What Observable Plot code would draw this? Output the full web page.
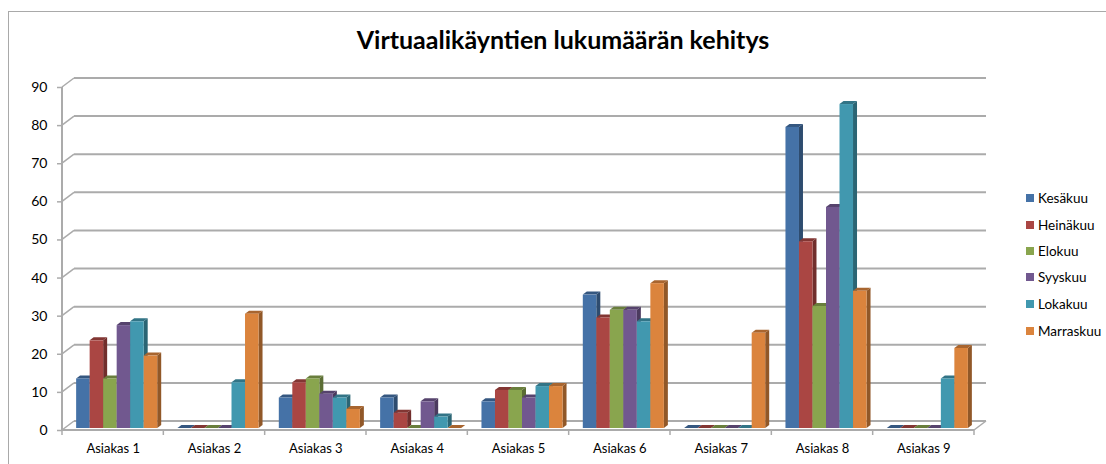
<!DOCTYPE html>
<html><head><meta charset="utf-8">
<script src="https://cdn.jsdelivr.net/npm/d3@7"></script>
<script src="https://cdn.jsdelivr.net/npm/@observablehq/plot@0.6"></script>
<style>
html,body{margin:0;padding:0;background:#fff;overflow:hidden}
#wrap{position:relative;width:1106px;height:464px;overflow:hidden;font-family:Lato,sans-serif;color:#000}
#frame{position:absolute;left:8px;top:11px;width:1200px;height:600px;border:1.5px solid #a9a9a9;box-sizing:border-box}
#title{position:absolute;left:0;top:23px;width:1126px;text-align:center;font-size:25px;font-weight:700;color:#000;line-height:32px}
#plot{position:absolute;left:0;top:0}
.lg{position:absolute;left:1026px;font-size:13.5px;line-height:16px;white-space:nowrap}
.lg i{position:absolute;left:0;top:4px;width:8px;height:8px}
.lg span{position:absolute;left:12px;top:0}
</style></head><body>
<div id="wrap"><div id="frame"></div><div id="plot"></div><div id="title">Virtuaalikäyntien lukumäärän kehitys</div></div>
<script>
const customers = ["Asiakas 1","Asiakas 2","Asiakas 3","Asiakas 4","Asiakas 5","Asiakas 6","Asiakas 7","Asiakas 8","Asiakas 9"];
const months = ["Kesäkuu","Heinäkuu","Elokuu","Syyskuu","Lokakuu","Marraskuu"];
const colors = ["#4572A7","#AA4643","#89A54E","#71588F","#4198AF","#DB843D"];
const kesakuu   = [13,0,8,8,7,35,0,79,0];
const heinakuu  = [23,0,12,4,10,29,0,49,0];
const elokuu    = [13,0,13,0,10,31,0,32,0];
const syyskuu   = [27,0,9,7,8,31,0,58,0];
const lokakuu   = [28,12,8,3,11,28,0,85,13];
const marraskuu = [19,30,5,0,11,38,25,36,21];
const series = [kesakuu,heinakuu,elokuu,syyskuu,lokakuu,marraskuu];
const yTicks = [0,10,20,30,40,50,60,70,80,90];

const rows = customers.flatMap((c,i)=>months.map((m,j)=>({customer:c,month:m,value:series[j][i]})));
const wallDx = 12, wallDy = -9, barDepthX = 4, barDepthY = -3, grid = "#ababab";
const W = 1106, H = 464, mL = 62, mR = 132, mT = 87, mB = 34;

function bar3d(index, scales, values, dims, ctx, next){
  const g = next(index, scales, values, dims, ctx);
  g.querySelectorAll("rect").forEach(r=>{
    const x=+r.getAttribute("x"), y=+r.getAttribute("y"), w=+r.getAttribute("width"), h=+r.getAttribute("height");
    const c=d3.color(r.getAttribute("fill"));
    const add=(pts,f)=>{const p=document.createElementNS("http://www.w3.org/2000/svg","polygon");
      p.setAttribute("points",pts.map(q=>q.join(",")).join(" "));p.setAttribute("fill",f);r.parentNode.insertBefore(p,r);};
    add([[x+w,y],[x+w+barDepthX,y+barDepthY],[x+w+barDepthX,y+h+barDepthY],[x+w,y+h]],c.darker(1.15).formatHex());
    add([[x,y],[x+barDepthX,y+barDepthY],[x+w+barDepthX,y+barDepthY],[x+w,y]],c.darker(.75).formatHex());
  });
  return g;
}
const chart = Plot.plot({
  width:W,height:H,marginLeft:mL,marginRight:mR,marginTop:mT,marginBottom:mB,
  style:{background:"transparent",fontFamily:"Lato,sans-serif",fontSize:"13px",color:"#000"},
  fx:{domain:customers,padding:0,round:false,label:null},
  x:{domain:months,paddingInner:0,paddingOuter:.75,round:false,axis:null,label:null},
  y:{domain:[0,90],label:null,axis:null},
  color:{domain:months,range:colors},
  marks:[
    Plot.axisY(yTicks,{tickSize:5,tickPadding:10,stroke:grid,strokeWidth:1.5,fill:"#000",fontSize:14,label:null,tickFormat:d=>d}),
    Plot.axisFx({anchor:"bottom",tickSize:0,tickPadding:13,label:null,fontSize:13,fill:"#000"}),
    Plot.barY(rows,{fx:"customer",x:"month",y:"value",fill:"month",dx:4,dy:-2,render:bar3d})
  ]
});
// Walls and floor sit behind the marks; their heights come from the chart's own y scale.
const yScale = chart.scale("y").apply;
const L = mL, R = W-mR, B = H-mB, T = mT;
const wall = d3.create("svg:g").attr("stroke",grid).attr("fill","none");
const seg = (x1,y1,x2,y2,sw)=>wall.append("line").attr("x1",x1).attr("y1",y1).attr("x2",x2).attr("y2",y2).attr("stroke-width",sw);
for(const t of yTicks){
  seg(L+wallDx,yScale(t)+wallDy,R+wallDx,yScale(t)+wallDy,2);
  seg(L,yScale(t),L+wallDx,yScale(t)+wallDy,1.5);
}
seg(R,B,R+wallDx,B+wallDy,1.5);
seg(L,T,L,B,2);
seg(L,B,R,B,2);
const step=(R-L)/customers.length;
d3.range(customers.length+1).forEach(i=>seg(L+i*step,B,L+i*step,B+5,1.5));
chart.insertBefore(wall.node(), chart.querySelector("g"));
document.getElementById("plot").append(chart);
const wrap=document.getElementById("wrap");
const legendY=[190,217,243,269,296,323];
months.forEach((m,i)=>{
  const d=document.createElement("div");d.className="lg";d.style.top=legendY[i]+"px";
  d.innerHTML=`<i style="background:${colors[i]}"></i><span>${m}</span>`;wrap.append(d);
});
</script></body></html>
